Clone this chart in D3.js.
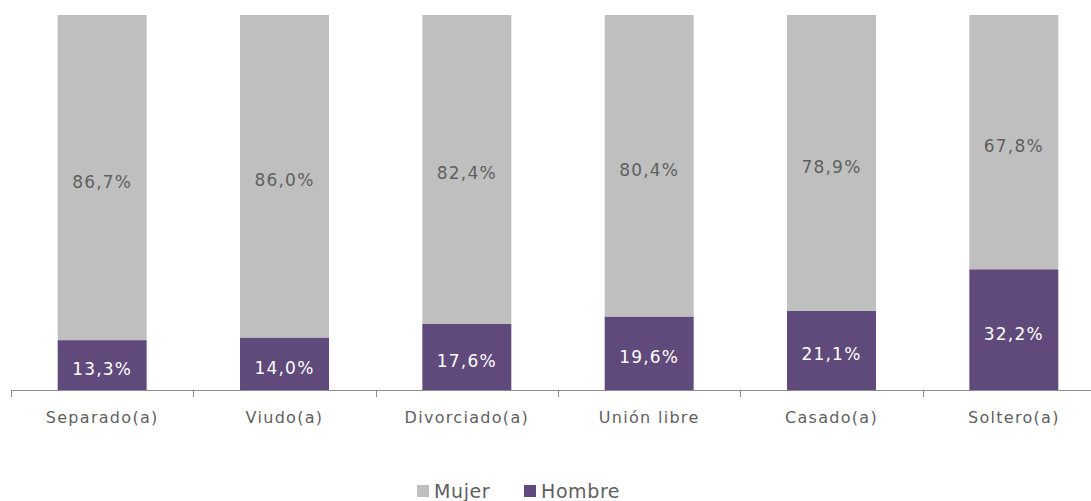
<!DOCTYPE html>
<html>
<head>
<meta charset="utf-8">
<script src="https://cdn.jsdelivr.net/npm/d3@7"></script>
<style>
  body { margin: 0; background: #fff; }
  text { font-family: "DejaVu Sans", sans-serif; }
</style>
</head>
<body>
<svg width="1091" height="501"></svg>
<script>
var categories = ["Separado(a)", "Viudo(a)", "Divorciado(a)", "Unión libre", "Casado(a)", "Soltero(a)"];
var hombre = [13.3, 14.0, 17.6, 19.6, 21.1, 32.2];
var mujer = [86.7, 86.0, 82.4, 80.4, 78.9, 67.8];
var seriesNames = ["Hombre", "Mujer"];
var legendOrder = ["Mujer", "Hombre"];
var colors = { "Hombre": "#604A7B", "Mujer": "#BFBFBF" };

var svg = d3.select("svg");
// the plot runs past the right edge of the picture, as in the original
var plotLeft = 11, plotRight = 1105, plotTop = 15, plotBottom = 390;

var x = d3.scaleBand()
    .domain(categories)
    .range([plotLeft, plotRight])
    .paddingInner(0.512)
    .paddingOuter(0.256);

var y = d3.scaleLinear().domain([0, 100]).range([plotBottom, plotTop]);

var rows = categories.map(function(c, i) {
  return { cat: c, Hombre: hombre[i], Mujer: mujer[i] };
});
var layers = d3.stack().keys(seriesNames)(rows);

var fmt = function(v) { return v.toFixed(1).replace(".", ",") + "%"; };

var g = svg.append("g");
layers.forEach(function(layer) {
  var key = layer.key;
  g.selectAll(".bar-" + key)
    .data(layer)
    .enter().append("rect")
      .attr("x", function(d) { return x(d.data.cat); })
      .attr("y", function(d) { return y(d[1]); })
      .attr("width", x.bandwidth())
      .attr("height", function(d) { return y(d[0]) - y(d[1]); })
      .attr("fill", colors[key]);

  g.selectAll(".lbl-" + key)
    .data(layer)
    .enter().append("text")
      .attr("x", function(d) { return x(d.data.cat) + x.bandwidth() / 2; })
      .attr("y", function(d) { return (y(d[0]) + y(d[1])) / 2 + 4; })
      .attr("dy", "0.35em")
      .attr("text-anchor", "middle")
      .attr("font-size", 17)
      .attr("letter-spacing", 1.2)
      .attr("fill", key === "Hombre" ? "#ffffff" : "#5f5f5f")
      .text(function(d) { return fmt(d.data[key]); });
});

// category axis, ticks between categories
var axisG = svg.append("g");
axisG.append("line")
  .attr("x1", plotLeft).attr("x2", plotRight)
  .attr("y1", plotBottom + 0.5).attr("y2", plotBottom + 0.5)
  .attr("stroke", "#8c8c8c");
var tickPos = d3.range(categories.length + 1).map(function(i) {
  return plotLeft + i * x.step();
});
axisG.selectAll(".tick")
  .data(tickPos)
  .enter().append("line")
    .attr("x1", function(d) { return Math.round(d) + 0.5; })
    .attr("x2", function(d) { return Math.round(d) + 0.5; })
    .attr("y1", plotBottom).attr("y2", plotBottom + 7)
    .attr("stroke", "#8c8c8c");
axisG.selectAll(".cat")
  .data(categories)
  .enter().append("text")
    .attr("x", function(d) { return x(d) + x.bandwidth() / 2; })
    .attr("y", 423)
    .attr("text-anchor", "middle")
    .attr("font-size", 16)
    .attr("letter-spacing", 1.3)
    .attr("fill", "#5f5f5f")
    .text(function(d) { return d; });

// legend
var legendX = { "Mujer": 417, "Hombre": 524 };
var leg = svg.append("g");
legendOrder.forEach(function(name) {
  leg.append("rect")
    .attr("x", legendX[name]).attr("y", 485)
    .attr("width", 12).attr("height", 12)
    .attr("fill", colors[name]);
  leg.append("text")
    .attr("x", legendX[name] + 17).attr("y", 498)
    .attr("font-size", 19)
    .attr("letter-spacing", 0.6)
    .attr("fill", "#5f5f5f")
    .text(name);
});
</script>
</body>
</html>
